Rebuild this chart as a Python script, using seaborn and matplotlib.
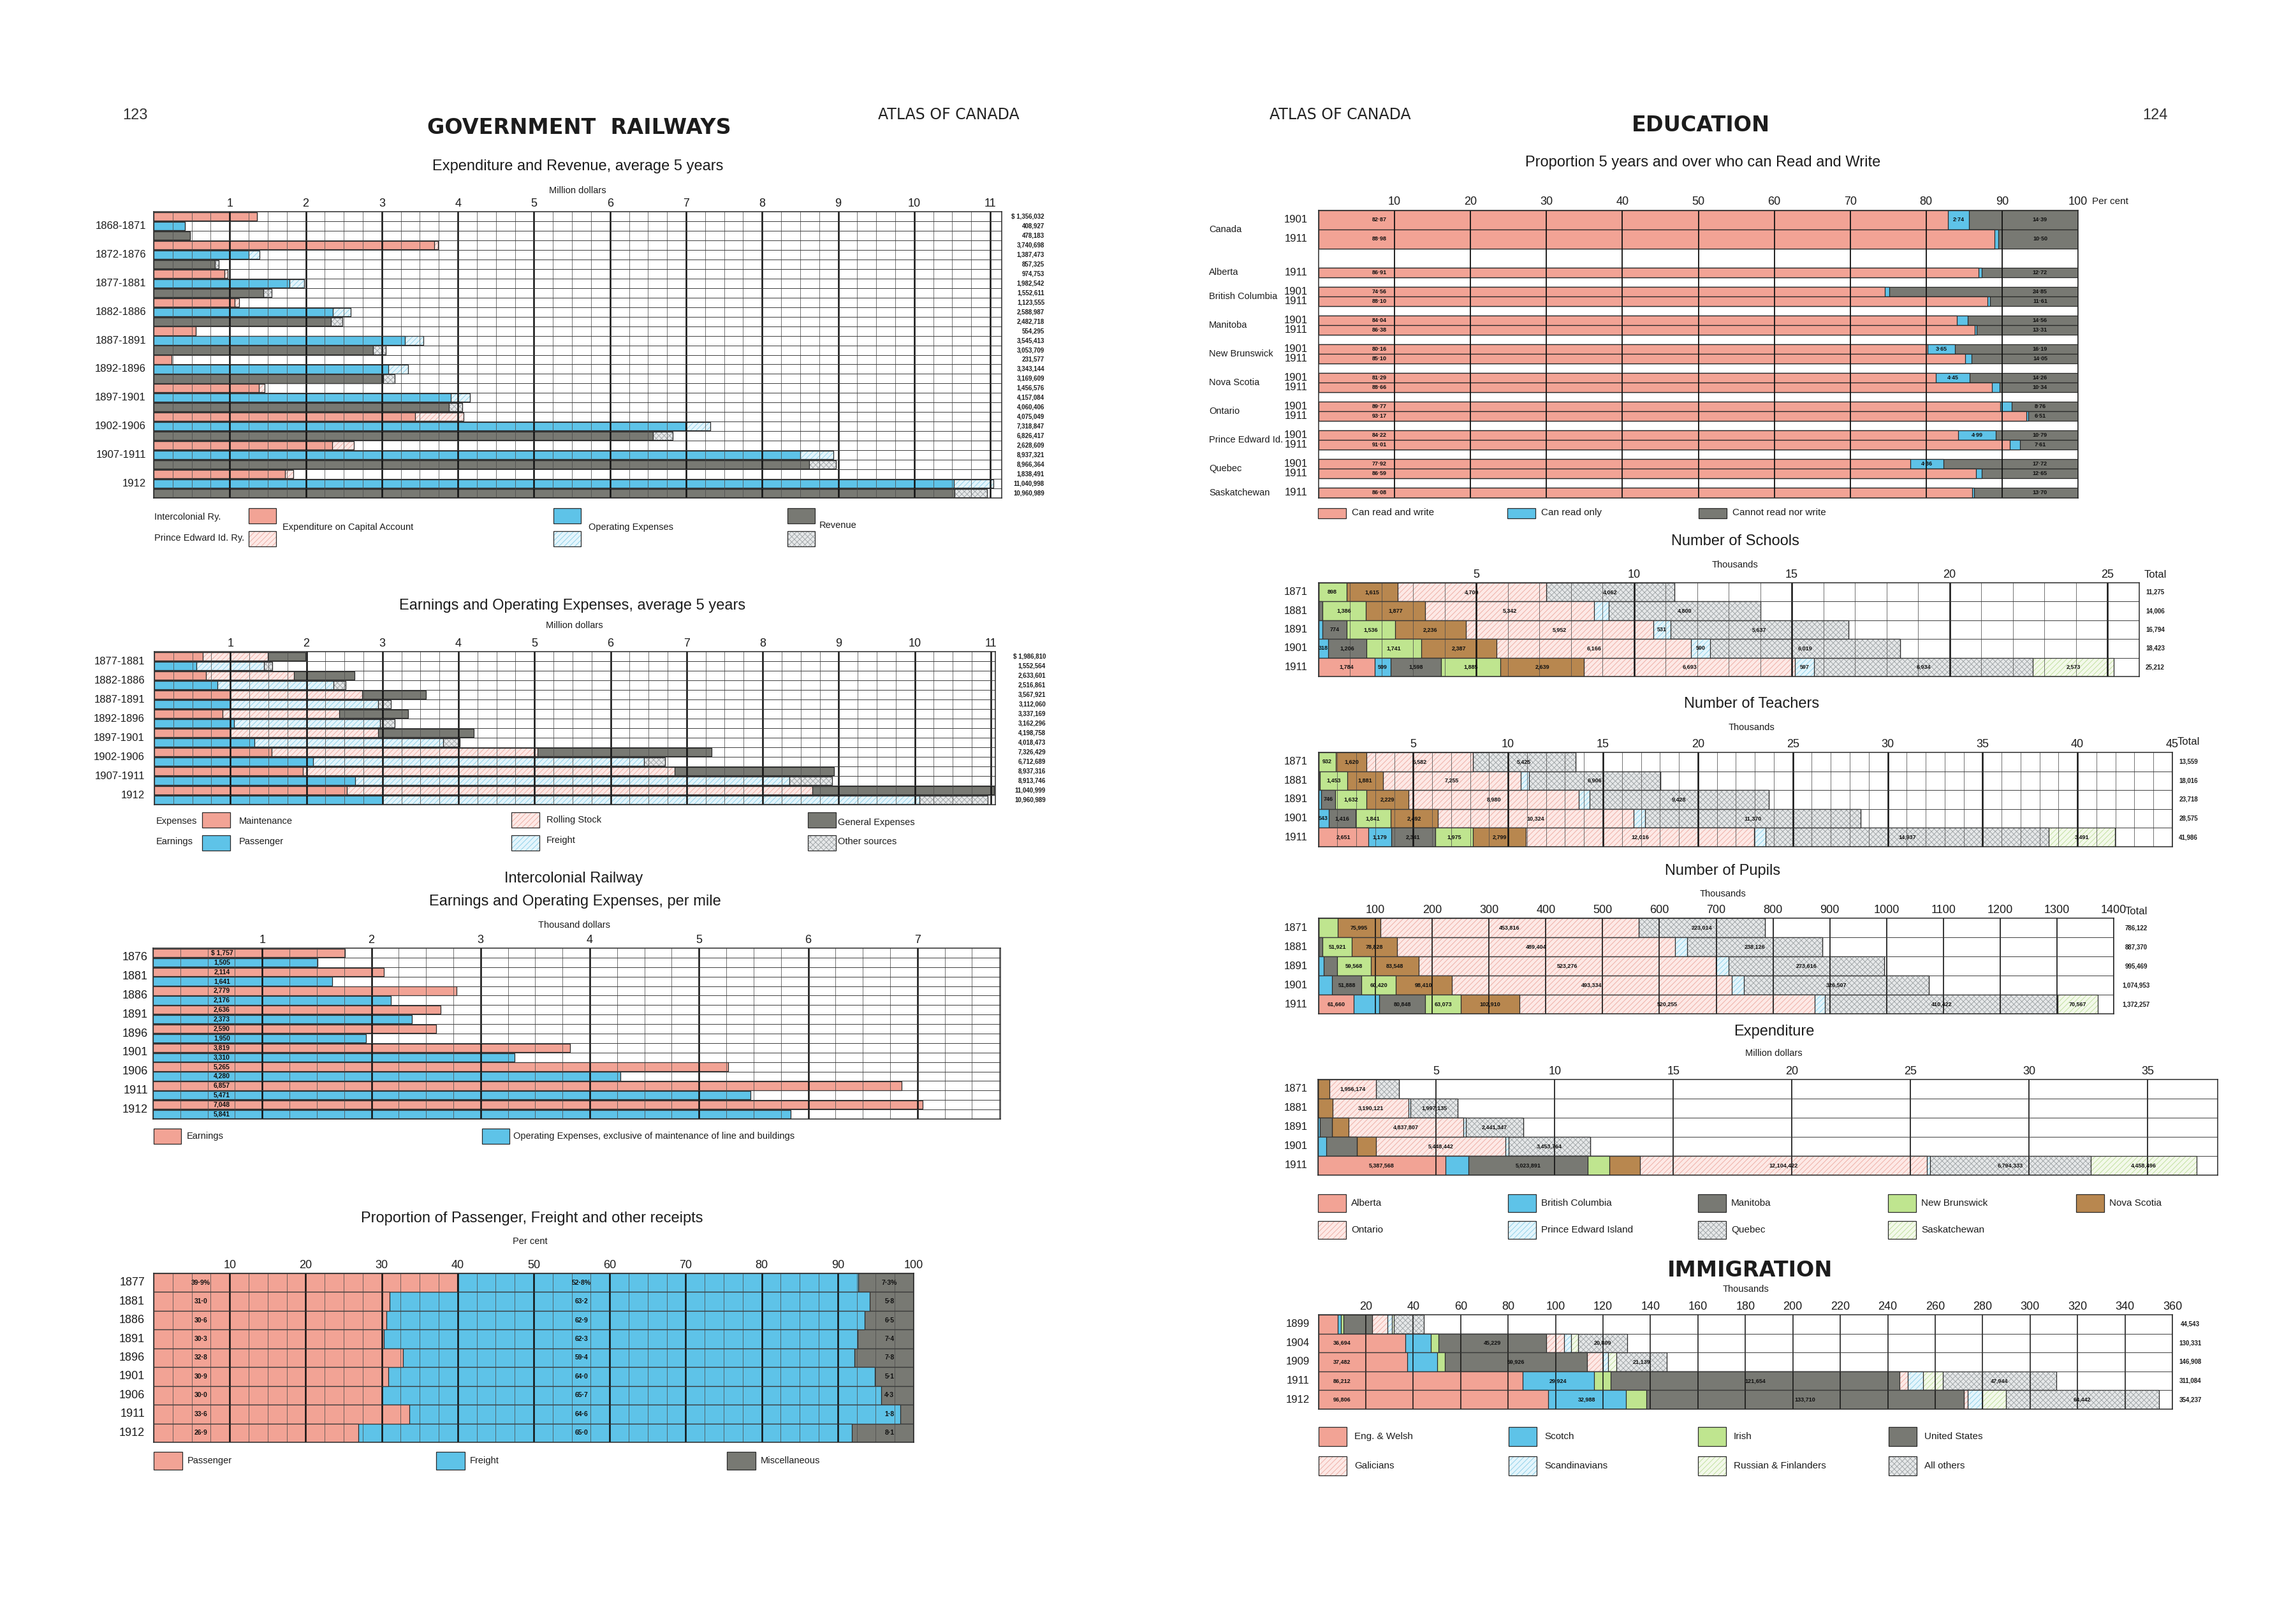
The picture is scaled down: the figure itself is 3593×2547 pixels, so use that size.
import numpy as np
import pandas as pd
import seaborn as sns
import matplotlib.pyplot as plt
from matplotlib import transforms, font_manager
from matplotlib.patches import Rectangle

# ---------------- Government Railways: expenditure and revenue (dollars) ----------------
rail_periods = ['1868-1871', '1872-1876', '1877-1881', '1882-1886', '1887-1891',
                '1892-1896', '1897-1901', '1902-1906', '1907-1911', '1912']
capital_total = [1356032, 3740698, 974753, 1123555, 554295, 231577, 1456576, 4075049, 2628609, 1838491]
capital_pei = [0, 50000, 40000, 60000, 0, 0, 70000, 640000, 280000, 110000]
opex_total = [408927, 1387473, 1982542, 2588987, 3545413, 3343144, 4157084, 7318847, 8937321, 11040998]
opex_pei = [0, 140000, 200000, 230000, 245000, 260000, 250000, 330000, 440000, 520000]
revenue_total = [478183, 857325, 1552611, 2482718, 3053709, 3169609, 4060406, 6826417, 8966364, 10960989]
revenue_pei = [0, 50000, 110000, 150000, 170000, 150000, 180000, 260000, 350000, 430000]

# ---------------- Earnings and operating expenses (million dollars) ----------------
earn_periods = ['1877-1881', '1882-1886', '1887-1891', '1892-1896',
                '1897-1901', '1902-1906', '1907-1911', '1912']
maintenance = [0.64, 0.68, 1.00, 0.90, 1.00, 1.54, 1.95, 2.53]
rolling_stock = [0.85, 1.16, 1.73, 1.53, 1.94, 3.50, 4.89, 6.12]
general_exp = [0.497, 0.794, 0.838, 0.907, 1.259, 2.286, 2.097, 2.391]
passenger = [0.55, 0.83, 1.00, 1.05, 1.32, 2.09, 2.64, 3.00]
freight = [0.89, 1.53, 1.94, 1.92, 2.48, 4.35, 5.71, 7.06]
other_src = [0.113, 0.157, 0.172, 0.192, 0.218, 0.273, 0.564, 0.901]
expenses_total = [1986810, 2633601, 3567921, 3337169, 4198758, 7326429, 8937316, 11040999]
earnings_total = [1552564, 2516861, 3112060, 3162296, 4018473, 6712689, 8913746, 10960989]

# ---------------- Intercolonial Railway per mile (dollars) ----------------
mile_years = ['1876', '1881', '1886', '1891', '1896', '1901', '1906', '1911', '1912']
mile_earnings = [1757, 2114, 2779, 2636, 2590, 3819, 5265, 6857, 7048]
mile_expenses = [1505, 1641, 2176, 2373, 1950, 3310, 4280, 5471, 5841]

# ---------------- Proportion of receipts (per cent) ----------------
receipt_years = ['1877', '1881', '1886', '1891', '1896', '1901', '1906', '1911', '1912']
pct_passenger = [39.9, 31.0, 30.6, 30.3, 32.8, 30.9, 30.0, 33.6, 26.9]
pct_freight = [52.8, 63.2, 62.9, 62.3, 59.4, 64.0, 65.7, 64.6, 65.0]
pct_misc = [7.3, 5.8, 6.5, 7.4, 7.8, 5.1, 4.3, 1.8, 8.1]

# ---------------- Literacy (per cent) ----------------
lit_region = ['Canada', 'Canada', 'Alberta', 'British Columbia', 'British Columbia',
              'Manitoba', 'Manitoba', 'New Brunswick', 'New Brunswick', 'Nova Scotia',
              'Nova Scotia', 'Ontario', 'Ontario', 'Prince Edward Id.', 'Prince Edward Id.',
              'Quebec', 'Quebec', 'Saskatchewan']
lit_year = ['1901', '1911', '1911', '1901', '1911', '1901', '1911', '1901', '1911',
            '1901', '1911', '1901', '1911', '1901', '1911', '1901', '1911', '1911']
read_write = [82.87, 88.98, 86.91, 74.56, 88.10, 84.04, 86.38, 80.16, 85.10,
              81.29, 88.66, 89.77, 93.17, 84.22, 91.01, 77.92, 86.59, 86.08]
read_only = [2.74, 0.52, 0.37, 0.59, 0.29, 1.40, 0.31, 3.65, 0.85,
             4.45, 1.00, 1.47, 0.32, 4.99, 1.38, 4.36, 0.76, 0.22]
cannot_read = [14.39, 10.50, 12.72, 24.85, 11.61, 14.56, 13.31, 16.19, 14.05,
               14.26, 10.34, 8.76, 6.51, 10.79, 7.61, 17.72, 12.65, 13.70]

# ---------------- Education by province ----------------
edu_years = ['1871', '1881', '1891', '1901', '1911']
provinces = ['Alberta', 'British Columbia', 'Manitoba', 'New Brunswick', 'Nova Scotia',
             'Ontario', 'Prince Edward Island', 'Quebec', 'Saskatchewan']
schools_1871 = [0, 0, 0, 898, 1615, 4700, 0, 4062, 0]
schools_1881 = [0, 0, 128, 1386, 1877, 5342, 473, 4800, 0]
schools_1891 = [0, 128, 774, 1536, 2236, 5952, 531, 5637, 0]
schools_1901 = [0, 318, 1206, 1741, 2387, 6166, 590, 6019, 0]
schools_1911 = [1784, 509, 1598, 1885, 2639, 6693, 597, 6934, 2573]
schools_total = [11275, 14006, 16794, 18423, 25212]

teachers_1871 = [0, 0, 0, 932, 1620, 5582, 0, 5425, 0]
teachers_1881 = [0, 0, 80, 1453, 1881, 7255, 441, 6906, 0]
teachers_1891 = [0, 150, 746, 1632, 2229, 8980, 553, 9428, 0]
teachers_1901 = [0, 543, 1416, 1841, 2492, 10324, 589, 11370, 0]
teachers_1911 = [2651, 1179, 2341, 1975, 2799, 12016, 597, 14937, 3491]
teachers_total = [13559, 18016, 23718, 28575, 41986]

pupils_1871 = [0, 0, 0, 33297, 75995, 453816, 0, 223014, 0]
pupils_1881 = [0, 0, 7000, 51921, 78828, 489404, 22091, 238126, 0]
pupils_1891 = [0, 9000, 23961, 59568, 83548, 523276, 22500, 273616, 0]
pupils_1901 = [0, 23615, 51888, 60420, 98410, 493334, 20779, 326507, 0]
pupils_1911 = [61660, 45000, 80848, 63073, 102910, 520255, 17522, 410422, 70567]
pupils_total = [786122, 887370, 995469, 1074953, 1372257]

spend_1871 = [0, 0, 0, 0, 510000, 1956174, 0, 970000, 0]
spend_1881 = [0, 0, 0, 0, 640000, 3190121, 80000, 1997135, 0]
spend_1891 = [0, 100000, 500000, 0, 700000, 4837807, 100000, 2441347, 0]
spend_1901 = [0, 370000, 1280000, 0, 820000, 5448442, 130000, 3453764, 0]
spend_1911 = [5387568, 970000, 5023891, 920000, 1280000, 12104422, 130000, 6794333, 4458496]

# ---------------- Immigration (persons) ----------------
imm_years = ['1899', '1904', '1909', '1911', '1912']
origins = ['Eng. & Welsh', 'Scotch', 'Irish', 'United States', 'Galicians',
           'Scandinavians', 'Russian & Finlanders', 'All others']
imm_1899 = [8200, 1300, 1000, 12300, 6400, 1800, 800, 12743]
imm_1904 = [36694, 10800, 3300, 45229, 7700, 2800, 2999, 20809]
imm_1909 = [37482, 12600, 3300, 59926, 6561, 2300, 3600, 21139]
imm_1911 = [86212, 29924, 7200, 121654, 3600, 6200, 8350, 47944]
imm_1912 = [96806, 32988, 8500, 133710, 1800, 6200, 9791, 64442]
imm_total = [44543, 130331, 146908, 311084, 354237]

# ---------------- style ----------------
sns.set_theme(style='white')
installed = {f.name for f in font_manager.fontManager.ttflist}
SANS = 'Liberation Sans' if 'Liberation Sans' in installed else 'DejaVu Sans'
plt.rcParams['font.family'] = [SANS, 'DejaVu Sans']
plt.rcParams['hatch.linewidth'] = 0.7

INK = '#1c1c1c'
EDGE = '#2a2a2a'
SALMON = ('#f2a395', None, None)
BLUE = ('#5ec3e8', None, None)
DARK = ('#787973', None, None)
GREEN = ('#bfe58f', None, None)
BROWN = ('#b8874f', None, None)
PINK_H = ('#fde9e6', '#eeb0a7', '////')
LBLUE_H = ('#e4f5fc', '#92d2ea', '////')
GREY_X = ('#e6e8e9', '#a4a9ab', 'xxxx')
LGREEN_H = ('#f3f9ea', '#c3e0a0', '////')

prov_styles = dict(zip(provinces, [SALMON, BLUE, DARK, GREEN, BROWN, PINK_H, LBLUE_H, GREY_X, LGREEN_H]))
imm_styles = dict(zip(origins, [SALMON, BLUE, GREEN, DARK, PINK_H, LBLUE_H, LGREEN_H, GREY_X]))

W, H = 3593, 2547
fig = plt.figure(figsize=(W / 100, H / 100), dpi=100, facecolor='white')


def fig_text(x, y, s, size=11, ha='left', va='center', **kw):
    kw.setdefault('color', INK)
    fig.text(x / W, 1 - y / H, s, fontsize=size, ha=ha, va=va, **kw)


def make_axes(left, right, top, bottom):
    ax = fig.add_axes([left / W, 1 - bottom / H, (right - left) / W, (bottom - top) / H])
    ax.set_facecolor('white')
    return ax


def swatch(x, y, w, h, style):
    face, hc, hatch = style
    box = (x / W, 1 - (y + h) / H)
    if hatch:
        fig.add_artist(Rectangle(box, w / W, h / H, transform=fig.transFigure,
                                 facecolor=face, edgecolor=hc, hatch=hatch, lw=0))
        fig.add_artist(Rectangle(box, w / W, h / H, transform=fig.transFigure,
                                 facecolor='none', edgecolor=EDGE, lw=0.9))
    else:
        fig.add_artist(Rectangle(box, w / W, h / H, transform=fig.transFigure,
                                 facecolor=face, edgecolor=EDGE, lw=0.9))


def row_label(ax, x_px, y, s, size=11.5, ha='right', **kw):
    tr = transforms.blended_transform_factory(fig.transFigure, ax.transData)
    ax.text(x_px / W, y, s, transform=tr, ha=ha, va='center', fontsize=size, color=INK, **kw)


def draw_bars(ax, frame, col, style, width, order=None):
    face, hc, hatch = style
    kw = dict(data=frame, x=col, y='row', orient='y', width=width, errorbar=None, ax=ax, zorder=2)
    if order is None:
        kw['native_scale'] = True
    else:
        kw['order'] = order
    if hatch:
        sns.barplot(**kw, facecolor=face, edgecolor=hc, hatch=hatch, linewidth=0)
        sns.barplot(**kw, facecolor='none', edgecolor=EDGE, linewidth=0.9)
    else:
        sns.barplot(**kw, facecolor=face, edgecolor=EDGE, linewidth=0.9)


def stacked(ax, labels, rows, segs, styles, width=1.0, scale=1.0):
    vals = pd.DataFrame(np.array(rows, dtype=float) / scale, columns=segs)
    cum = vals.cumsum(axis=1)
    cum['row'] = labels
    for s in reversed(segs):
        draw_bars(ax, cum, s, styles[s], width, order=list(labels))
    return vals, cum


def finish_axis(ax, xmax, ticks, minor, major, nrows, tick_size=13, major_lw=1.8,
                minor_lw=0.55, row_lines=True, ylim=None):
    ax.set_xlim(0, xmax)
    ax.set_ylim(*(ylim if ylim else (nrows - 0.5, -0.5)))
    ax.set_xlabel('')
    ax.set_ylabel('')
    ax.xaxis.tick_top()
    ax.set_xticks(list(ticks))
    ax.set_xticklabels([f'{t:g}' for t in ticks], fontsize=tick_size, color=INK)
    ax.set_yticks([])
    ax.tick_params(axis='x', length=0, pad=3)
    ax.grid(False)
    for x in np.arange(minor, xmax + 1e-9, minor):
        is_major = abs(x / major - round(x / major)) < 1e-6
        ax.axvline(x, color='#111111' if is_major else '#4d4d4d',
                   lw=major_lw if is_major else minor_lw, zorder=3)
    if row_lines:
        for y in np.arange(0.5, nrows - 0.5, 1):
            ax.axhline(y, color='#3c3c3c', lw=0.7, zorder=3)
    for sp in ax.spines.values():
        sp.set_visible(True)
        sp.set_color(EDGE)
        sp.set_linewidth(1.1)
        sp.set_zorder(5)


# ================= LEFT PAGE =================
fig_text(212, 181, '123', size=17, ha='center', color='#333333')
fig_text(1488, 180, 'ATLAS OF CANADA', size=17, ha='center', family=['DejaVu Sans'], color='#222222')
fig_text(908, 200, 'GOVERNMENT  RAILWAYS', size=24, ha='center', fontweight='bold', family=['DejaVu Sans'])

# --- Expenditure and Revenue ---
fig_text(906, 261, 'Expenditure and Revenue, average 5 years', size=17, ha='center')
fig_text(906, 299, 'Million dollars', size=10.5, ha='center')
ax1 = make_axes(241, 1571, 332, 781)
kinds = ['capital', 'operating', 'revenue']
p1_rows, p1_kind, p1_total, p1_pei = [], [], [], []
for i, period in enumerate(rail_periods):
    for kind, tot, pei in zip(kinds, (capital_total[i], opex_total[i], revenue_total[i]),
                              (capital_pei[i], opex_pei[i], revenue_pei[i])):
        p1_rows.append(f'{period} {kind}')
        p1_kind.append(kind)
        p1_total.append(tot)
        p1_pei.append(pei)
p1 = pd.DataFrame({'row': p1_rows, 'kind': p1_kind,
                   'total': np.array(p1_total) / 1e6, 'pei': np.array(p1_pei) / 1e6})
p1['icr'] = p1['total'] - p1['pei']
for kind, solid, hatched in zip(kinds, (SALMON, BLUE, DARK), (PINK_H, LBLUE_H, GREY_X)):
    sub = p1[p1['kind'] == kind]
    draw_bars(ax1, sub, 'total', hatched, 0.88, order=p1_rows)
    draw_bars(ax1, sub, 'icr', solid, 0.88, order=p1_rows)
finish_axis(ax1, 11.15, range(1, 12), 0.25, 1, len(p1_rows))
for i, period in enumerate(rail_periods):
    row_label(ax1, 229, 3 * i + 1, period, size=12)
for j, tot in enumerate(p1_total):
    row_label(ax1, 1638, j, f'{tot:,}' if j else f'$ {tot:,}', size=7, fontweight='bold')
fig_text(242, 811, 'Intercolonial Ry.', size=10.5)
fig_text(242, 844, 'Prince Edward Id. Ry.', size=10.5)
for x, top_style, bottom_style in [(390, SALMON, PINK_H), (868, BLUE, LBLUE_H), (1235, DARK, GREY_X)]:
    swatch(x, 797, 43, 24, top_style)
    swatch(x, 833, 43, 24, bottom_style)
fig_text(443, 827, 'Expenditure on Capital Account', size=10.5)
fig_text(923, 827, 'Operating Expenses', size=10.5)
fig_text(1285, 824, 'Revenue', size=10.5)

# --- Earnings and Operating Expenses ---
fig_text(898, 950, 'Earnings and Operating Expenses, average 5 years', size=17, ha='center')
fig_text(901, 981, 'Million dollars', size=10.5, ha='center')
ax2 = make_axes(242, 1561, 1022, 1262)
p2_rows = [f'{p} {k}' for p in earn_periods for k in ('expenses', 'earnings')]
exp_frame = pd.DataFrame({'maintenance': maintenance, 'rolling': rolling_stock,
                          'general': general_exp}).cumsum(axis=1)
exp_frame['row'] = [f'{p} expenses' for p in earn_periods]
earn_frame = pd.DataFrame({'passenger': passenger, 'freight': freight,
                           'other': other_src}).cumsum(axis=1)
earn_frame['row'] = [f'{p} earnings' for p in earn_periods]
for col, style in [('general', DARK), ('rolling', PINK_H), ('maintenance', SALMON)]:
    draw_bars(ax2, exp_frame, col, style, 0.9, order=p2_rows)
for col, style in [('other', GREY_X), ('freight', LBLUE_H), ('passenger', BLUE)]:
    draw_bars(ax2, earn_frame, col, style, 0.9, order=p2_rows)
finish_axis(ax2, 11.06, range(1, 12), 0.25, 1, len(p2_rows))
for i, period in enumerate(earn_periods):
    row_label(ax2, 227, 2 * i + 0.5, period, size=12)
p2_totals = [v for pair in zip(expenses_total, earnings_total) for v in pair]
for j, tot in enumerate(p2_totals):
    row_label(ax2, 1640, j, f'{tot:,}' if j else f'$ {tot:,}', size=7, fontweight='bold')
fig_text(245, 1288, 'Expenses', size=10.5)
fig_text(245, 1320, 'Earnings', size=10.5)
for x, top_style, bottom_style in [(317, SALMON, BLUE), (802, PINK_H, LBLUE_H), (1267, DARK, GREY_X)]:
    swatch(x, 1274, 44, 24, top_style)
    swatch(x, 1310, 44, 24, bottom_style)
fig_text(375, 1288, 'Maintenance', size=10.5)
fig_text(375, 1320, 'Passenger', size=10.5)
fig_text(857, 1286, 'Rolling Stock', size=10.5)
fig_text(857, 1318, 'Freight', size=10.5)
fig_text(1314, 1290, 'General Expenses', size=10.5)
fig_text(1314, 1320, 'Other sources', size=10.5)

# --- Intercolonial Railway per mile ---
fig_text(900, 1378, 'Intercolonial Railway', size=17, ha='center')
fig_text(902, 1414, 'Earnings and Operating Expenses, per mile', size=17, ha='center')
fig_text(900, 1451, 'Thousand dollars', size=10.5, ha='center')
ax3 = make_axes(240, 1569, 1487, 1755)
p3_rows = [f'{y} {k}' for y in mile_years for k in ('earnings', 'expenses')]
e_frame = pd.DataFrame({'row': [f'{y} earnings' for y in mile_years],
                        'value': np.array(mile_earnings) / 1000})
x_frame = pd.DataFrame({'row': [f'{y} expenses' for y in mile_years],
                        'value': np.array(mile_expenses) / 1000})
draw_bars(ax3, e_frame, 'value', SALMON, 0.9, order=p3_rows)
draw_bars(ax3, x_frame, 'value', BLUE, 0.9, order=p3_rows)
finish_axis(ax3, 7.76, range(1, 8), 0.25, 1, len(p3_rows))
for i, yr in enumerate(mile_years):
    row_label(ax3, 232, 2 * i + 0.5, yr, size=13)
p3_vals = [v for pair in zip(mile_earnings, mile_expenses) for v in pair]
for j, v in enumerate(p3_vals):
    ax3.text(0.63, j, f'{v:,}' if j else f'$ {v:,}', ha='center', va='center',
             fontsize=7.5, fontweight='bold', color='#111111', zorder=6)
swatch(241, 1770, 43, 24, SALMON)
fig_text(293, 1782, 'Earnings', size=10.5)
swatch(756, 1770, 43, 24, BLUE)
fig_text(805, 1782, 'Operating Expenses, exclusive of maintenance of line and buildings', size=10.5)

# --- Proportion of receipts ---
fig_text(834, 1911, 'Proportion of Passenger, Freight and other receipts', size=17, ha='center')
fig_text(831, 1947, 'Per cent', size=10.5, ha='center')
ax4 = make_axes(241, 1433, 1997, 2262)
receipt_segs = ['Passenger', 'Freight', 'Miscellaneous']
stacked(ax4, receipt_years, list(zip(pct_passenger, pct_freight, pct_misc)), receipt_segs,
        {'Passenger': SALMON, 'Freight': BLUE, 'Miscellaneous': DARK}, width=1.0)
finish_axis(ax4, 100, range(10, 101, 10), 2.5, 10, len(receipt_years))
for i, yr in enumerate(receipt_years):
    row_label(ax4, 227, i, yr, size=13)
    for xpos, v in [(6.2, pct_passenger[i]), (56.3, pct_freight[i]), (96.8, pct_misc[i])]:
        s = f'{v:.1f}'.replace('.', '·') + ('%' if i == 0 else '')
        ax4.text(xpos, i, s, ha='center', va='center', fontsize=7.5, fontweight='bold',
                 color='#111111', zorder=6)
for x, style, label in [(241, SALMON, 'Passenger'), (684, BLUE, 'Freight'), (1140, DARK, 'Miscellaneous')]:
    swatch(x, 2277, 45, 28, style)
    fig_text(x + 53, 2291, label, size=10.5)

# ================= RIGHT PAGE =================
fig_text(2102, 180, 'ATLAS OF CANADA', size=17, ha='center', family=['DejaVu Sans'], color='#222222')
fig_text(3380, 181, '124', size=17, ha='center', color='#333333')
fig_text(2667, 196, 'EDUCATION', size=24, ha='center', fontweight='bold', family=['DejaVu Sans'])

# --- Literacy ---
fig_text(2671, 255, 'Proportion 5 years and over who can Read and Write', size=17, ha='center')
ax5 = make_axes(2068, 3259, 329.5, 780.5)
lit_pos = []
cursor = 0.0
for i, reg in enumerate(lit_region):
    if i > 0 and reg != lit_region[i - 1]:
        cursor += 2 if lit_region[i - 1] == 'Canada' else 1
    h = 2 if reg == 'Canada' else 1
    lit_pos.append(cursor + h / 2)
    cursor += h
lit = pd.DataFrame({'rw': read_write, 'ro': read_only, 'cn': cannot_read}).cumsum(axis=1)
lit['row'] = lit_pos
is_canada = np.array(lit_region) == 'Canada'
for part in (lit[is_canada], lit[~is_canada]):
    for col, style in [('cn', DARK), ('ro', BLUE), ('rw', SALMON)]:
        draw_bars(ax5, part, col, style, 1.0)
finish_axis(ax5, 100, range(10, 101, 10), 10, 10, 30, major_lw=1.3, row_lines=False, ylim=(cursor, 0))
fig_text(3281, 316, 'Per cent', size=11)
for i, y in enumerate(lit_pos):
    row_label(ax5, 2051, y, lit_year[i], size=12)
    ax5.text(8, y, f'{read_write[i]:.2f}'.replace('.', '·'), ha='center', va='center',
             fontsize=6.5, fontweight='bold', color='#111111', zorder=6)
    ax5.text(95, y, f'{cannot_read[i]:.2f}'.replace('.', '·'), ha='center', va='center',
             fontsize=6.5, fontweight='bold', color='#111111', zorder=6)
    if read_only[i] >= 2:
        ax5.text(read_write[i] + read_only[i] / 2, y, f'{read_only[i]:.2f}'.replace('.', '·'),
                 ha='center', va='center', fontsize=6.5, fontweight='bold', color='#111111', zorder=6)
for reg in dict.fromkeys(lit_region):
    ys = [p for p, r in zip(lit_pos, lit_region) if r == reg]
    row_label(ax5, 1896, np.mean(ys), reg, size=10.5, ha='left')
for x, style, label in [(2067, SALMON, 'Can read and write'), (2364, BLUE, 'Can read only'),
                        (2664, DARK, 'Cannot read nor write')]:
    swatch(x, 797, 44, 16, style)
    fig_text(x + 53, 804, label, size=11)

# --- Schools, Teachers, Pupils, Expenditure ---
edu_panels = [
    dict(title='Number of Schools', unit='Thousands', ty=849, uy=886,
         rows=[schools_1871, schools_1881, schools_1891, schools_1901, schools_1911],
         totals=schools_total, scale=1000, box=(2067.5, 3354.5, 914, 1061), xmax=26,
         ticks=range(5, 26, 5), minor=1, major=5, thresh=300,
         quiet=[('1881', 'Prince Edward Island')], total_x=3380, total_head=(3380, 902)),
    dict(title='Number of Teachers', unit='Thousands', ty=1104, uy=1141,
         rows=[teachers_1871, teachers_1881, teachers_1891, teachers_1901, teachers_1911],
         totals=teachers_total, scale=1000, box=(2067.5, 3407, 1180, 1328), xmax=45,
         ticks=range(5, 46, 5), minor=1, major=5, thresh=500,
         quiet=[('1891', 'Prince Edward Island'), ('1901', 'Prince Edward Island'),
                ('1911', 'Prince Edward Island')], total_x=3432, total_head=(3432, 1163)),
    dict(title='Number of Pupils', unit='Thousands', ty=1366, uy=1402,
         rows=[pupils_1871, pupils_1881, pupils_1891, pupils_1901, pupils_1911],
         totals=pupils_total, scale=1000, box=(2068, 3315, 1440, 1590), xmax=1400,
         ticks=range(100, 1401, 100), minor=100, major=100, thresh=50000,
         quiet=[], total_x=3350, total_head=(3350, 1430)),
    dict(title='Expenditure', unit='Million dollars', ty=1618, uy=1652,
         rows=[spend_1871, spend_1881, spend_1891, spend_1901, spend_1911],
         totals=None, scale=1e6, box=(2066.5, 3478, 1693, 1843), xmax=37.95,
         ticks=range(5, 36, 5), minor=5, major=5, thresh=1500000,
         quiet=[], total_x=None, total_head=None),
]
for cfg in edu_panels:
    left, right, top, bottom = cfg['box']
    mid = (left + right) / 2
    fig_text(mid + 10, cfg['ty'], cfg['title'], size=17, ha='center')
    fig_text(mid + 10, cfg['uy'], cfg['unit'], size=10.5, ha='center')
    ax = make_axes(left, right, top, bottom)
    vals, cum = stacked(ax, edu_years, cfg['rows'], provinces, prov_styles, width=1.0, scale=cfg['scale'])
    heavy = cfg['minor'] != cfg['major']
    finish_axis(ax, cfg['xmax'], cfg['ticks'], cfg['minor'], cfg['major'], len(edu_years),
                major_lw=1.8 if heavy else 1.2)
    for i, yr in enumerate(edu_years):
        row_label(ax, 2051, i, yr, size=12)
        for j, prov in enumerate(provinces):
            raw = cfg['rows'][i][j]
            if raw >= cfg['thresh'] and (yr, prov) not in cfg['quiet']:
                xc = cum.loc[i, prov] - vals.loc[i, prov] / 2
                ax.text(xc, i, f'{raw:,}', ha='center', va='center', fontsize=6.5,
                        fontweight='bold', color='#111111', zorder=6)
        if cfg['totals']:
            row_label(ax, cfg['total_x'], i, f"{cfg['totals'][i]:,}", size=7, ha='center', fontweight='bold')
    if cfg['total_head']:
        fig_text(cfg['total_head'][0], cfg['total_head'][1], 'Total', size=12, ha='center')

prov_legend_x = [2067, 2365, 2663, 2961, 3256]
for k, prov in enumerate(provinces):
    col, line = k % 5, k // 5
    x = prov_legend_x[col]
    y = 1873 + 42 * line
    swatch(x, y, 44, 28, prov_styles[prov])
    fig_text(x + 52, y + 14, prov, size=11)

# --- Immigration ---
fig_text(2745, 1993, 'IMMIGRATION', size=24, ha='center', fontweight='bold', family=['DejaVu Sans'])
fig_text(2738, 2022, 'Thousands', size=10.5, ha='center')
ax6 = make_axes(2067.5, 3407, 2062, 2210)
imm_rows = [imm_1899, imm_1904, imm_1909, imm_1911, imm_1912]
imm_vals, imm_cum = stacked(ax6, imm_years, imm_rows, origins, imm_styles, width=1.0, scale=1000)
finish_axis(ax6, 360, range(20, 361, 20), 20, 20, len(imm_years), major_lw=1.1)
for i, yr in enumerate(imm_years):
    row_label(ax6, 2054, i, yr, size=12)
    row_label(ax6, 3435, i, f'{imm_total[i]:,}', size=7, ha='center', fontweight='bold')
    for j, org in enumerate(origins):
        raw = imm_rows[i][j]
        if raw >= 20000:
            xc = 10 if j == 0 else imm_cum.loc[i, org] - imm_vals.loc[i, org] / 2
            ax6.text(xc, i, f'{raw:,}', ha='center', va='center', fontsize=6.5,
                     fontweight='bold', color='#111111', zorder=6)
imm_legend_x = [2068, 2366, 2663, 2962]
for k, org in enumerate(origins):
    col, line = k % 4, k // 4
    x = imm_legend_x[col]
    y = 2238 + 46 * line
    swatch(x, y, 44, 30, imm_styles[org])
    fig_text(x + 56, y + 15, org, size=11)

fig.savefig('out.png', dpi=100, facecolor='white')
